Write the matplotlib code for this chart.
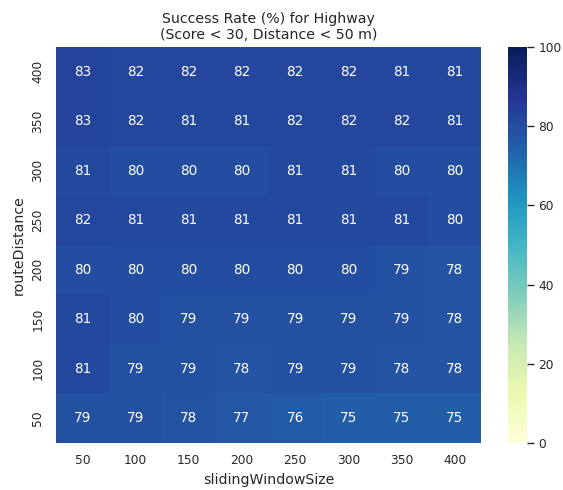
import numpy as np
import pandas as pd
import seaborn as sns
import matplotlib.pyplot as plt

sns.set_theme(context="paper", style="white")

window_sizes = [50, 100, 150, 200, 250, 300, 350, 400]
route_distances = [400, 350, 300, 250, 200, 150, 100, 50]

# rows top to bottom: routeDistance 400 -> 50
success = [
    [83, 82, 82, 82, 82, 82, 81, 81],
    [83, 82, 81, 81, 82, 82, 82, 81],
    [81, 80, 80, 80, 81, 81, 80, 80],
    [82, 81, 81, 81, 81, 81, 81, 80],
    [80, 80, 80, 80, 80, 80, 79, 78],
    [81, 80, 79, 79, 79, 79, 79, 78],
    [81, 79, 79, 78, 79, 79, 78, 78],
    [79, 79, 78, 77, 76, 75, 75, 75],
]

df = pd.DataFrame(success, index=route_distances, columns=window_sizes)

fig = plt.figure(figsize=(5.63, 4.9), dpi=100)
ax = fig.add_axes([0.0995, 0.096, 0.755, 0.808])
cax = fig.add_axes([0.902, 0.096, 0.034, 0.808])
sns.heatmap(df, annot=True, fmt=".0f", cmap="YlGnBu", vmin=0, vmax=100,
            ax=ax, cbar_ax=cax, annot_kws={"size": 9.8})
ax.set_title("Success Rate (%) for Highway\n(Score < 30, Distance < 50 m)", fontsize=10.2)
ax.set_xlabel("slidingWindowSize", fontsize=10.2)
ax.set_ylabel("routeDistance", fontsize=10.2)
ax.tick_params(axis="both", bottom=False, left=False)
cax.tick_params(right=True)
fig.savefig("out.png")
